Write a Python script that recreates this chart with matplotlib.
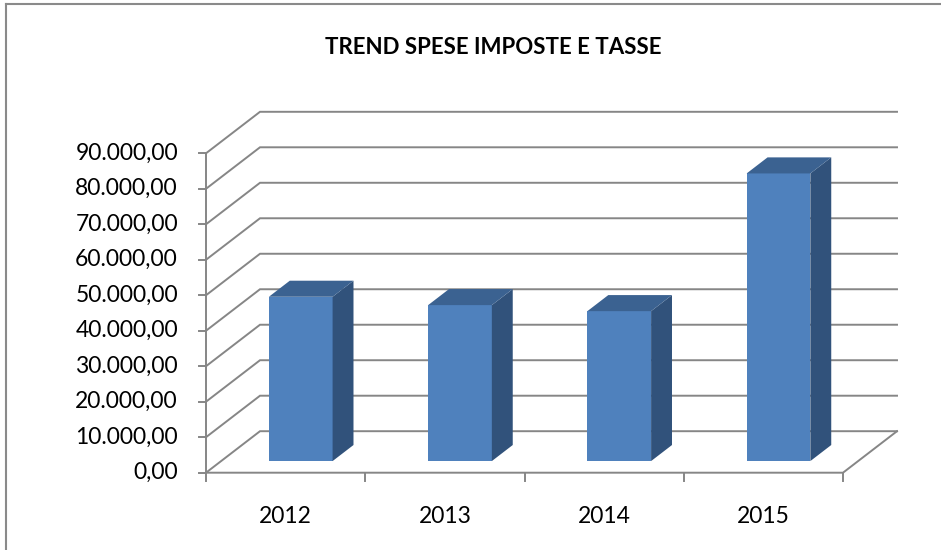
import numpy as np
import matplotlib.pyplot as plt
from matplotlib.lines import Line2D
from matplotlib.patches import Polygon

# dati del grafico
anni = ['2012', '2013', '2014', '2015']
spese = [46300, 43950, 42250, 81050]
valori_asse = np.arange(0, 90001, 10000)
titolo = 'TREND SPESE IMPOSTE E TASSE'

W, H = 941, 550
fig = plt.figure(figsize=(W / 100, H / 100), dpi=100)
plt.rcParams['font.family'] = ['Lato', 'DejaVu Sans']

# pixel del piano frontale: x da 206 a 843, y (0 -> 472.7, 90000 -> 153.3)
x0_px, x1_px = 206, 843
y0_px, y9_px = 472.7, 153.3
sx = len(anni) / (x1_px - x0_px)          # categorie per pixel
sy = 90000 / (y0_px - y9_px)              # valore per pixel

ax = fig.add_axes([0, 0, 1, 1])
ax.set_xlim(-x0_px * sx, (W - x0_px) * sx)
ax.set_ylim(-(H - y0_px) * sy, y0_px * sy)
ax.axis('off')

# profondita' della vista obliqua
dx = 54 * sx
dy = 41.5 * sy
n = len(anni)

grid_col = '#868686'
lw = 1.4

# griglia sulla parete di fondo
for v in valori_asse:
    ax.plot([0, dx, n + dx], [v, v + dy, v + dy], color=grid_col, lw=lw,
            solid_joinstyle='miter', zorder=1)

# pavimento
ax.plot([0, n, n + dx], [0, 0, dy], color=grid_col, lw=lw, zorder=1)

# asse verticale con tacche
ax.plot([0, 0], [0, valori_asse[-1]], color=grid_col, lw=lw, zorder=2)
for v in valori_asse:
    ax.plot([-7 * sx, 0], [v, v], color=grid_col, lw=lw, zorder=2)
    lab = f'{v:,.2f}'.replace(',', 'X').replace('.', ',').replace('X', '.')
    ax.text(-28 * sx, v, lab, ha='right', va='center', fontsize=16.5,
            color='black')

# tacche asse orizzontale
for i in range(n + 1):
    ax.plot([i, i], [0, -8 * sy], color=grid_col, lw=lw, zorder=2)
for i, a in enumerate(anni):
    ax.text(i + 0.5, -44 * sy, a, ha='center', va='center', fontsize=16.5,
            color='black')

# colonne 3D
c_front = '#4f81bd'
c_side = '#31527b'
c_top = '#3b6291'
larg = 0.40
z0, z1 = 0.28, 0.667
for i, v in enumerate(spese):
    xl = i + 0.5 - larg / 2 + z0 * dx
    xr = xl + larg
    yb = z0 * dy
    yt = v + z0 * dy
    ox = (z1 - z0) * dx
    oy = (z1 - z0) * dy
    ax.add_patch(Polygon([(xl, yb), (xr, yb), (xr, yt), (xl, yt)],
                         closed=True, fc=c_front, ec='none', zorder=3))
    ax.add_patch(Polygon([(xr, yb), (xr + ox, yb + oy), (xr + ox, yt + oy), (xr, yt)],
                         closed=True, fc=c_side, ec='none', zorder=3))
    ax.add_patch(Polygon([(xl, yt), (xr, yt), (xr + ox, yt + oy), (xl + ox, yt + oy)],
                         closed=True, fc=c_top, ec='none', zorder=3))

# titolo
fig.text(493 / W, 1 - 47 / H, titolo, ha='center', va='center',
         fontsize=16, fontweight='bold', color='black')

# cornice dell'area del grafico
fig.add_artist(Line2D([6 / W, 6 / W], [0, 1 - 4 / H], color='#8a8a8a', lw=1.5,
                      transform=fig.transFigure))
fig.add_artist(Line2D([6 / W, 1], [1 - 4 / H, 1 - 4 / H], color='#8a8a8a', lw=1.5,
                      transform=fig.transFigure))

fig.savefig('out.png', dpi=100)
